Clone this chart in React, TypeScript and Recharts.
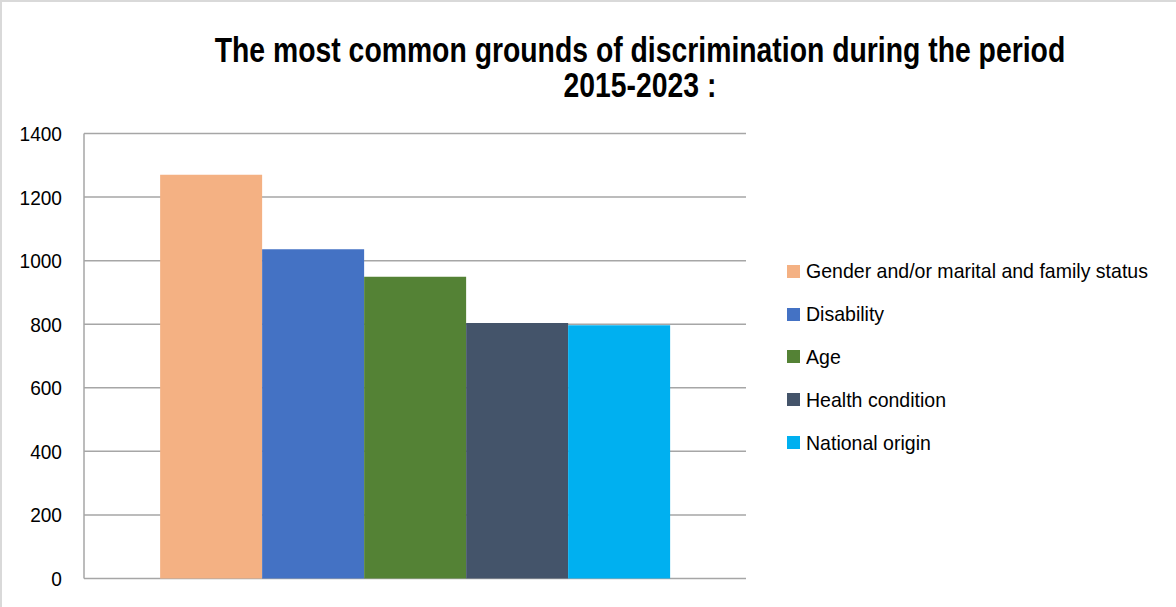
import React from 'react';
import { BarChart, Bar, XAxis, YAxis, CartesianGrid, Legend } from 'recharts';

const categories = ['2015-2023'];
const seriesNames = [
  'Gender and/or marital and family status',
  'Disability',
  'Age',
  'Health condition',
  'National origin',
];
const seriesValues = [1270, 1036, 949, 804, 797];
const seriesColors = ['#F4B183', '#4472C4', '#548235', '#44546A', '#00B0F0'];
const yTicks = [0, 200, 400, 600, 800, 1000, 1200, 1400];
const titleLines = ['The most common grounds of discrimination during the period', '2015-2023 :'];

const data = categories.map((c) => {
  const row: Record<string, any> = { name: c };
  seriesNames.forEach((s, i) => {
    row['s' + i] = seriesValues[i];
  });
  return row;
});

const FONT = "'Liberation Sans', Arial, sans-serif";
const BODY_SCALE = 0.91;
const LEGEND_SCALE = 0.93;
const TITLE_SCALE = 0.81;

const LegendContent = () => (
  <div style={{ fontFamily: FONT }}>
    {seriesNames.map((name, i) => (
      <div key={name} style={{ display: 'flex', alignItems: 'center', height: 42.8 }}>
        <span
          style={{
            display: 'inline-block',
            flexShrink: 0,
            width: 13,
            height: 13,
            background: seriesColors[i],
            marginRight: 6,
          }}
        />
        <span
          style={{
            fontSize: 21,
            color: '#000',
            whiteSpace: 'nowrap',
            display: 'inline-block',
            transform: `scaleX(${LEGEND_SCALE})`,
            transformOrigin: 'left center',
          }}
        >
          {name}
        </span>
      </div>
    ))}
  </div>
);

const YTick = (props: any) => {
  const { x, y, payload } = props;
  return (
    <g transform={`translate(${x},${y}) scale(${BODY_SCALE},1)`}>
      <text x={0} y={0} dy="0.36em" textAnchor="end" fill="#000" fontSize={21} fontFamily={FONT}>
        {payload.value}
      </text>
    </g>
  );
};

export default function App() {
  return (
    <div
      style={{
        position: 'absolute',
        left: 0,
        top: 0,
        width: 1176,
        height: 607,
        background: '#fff',
        boxSizing: 'border-box',
        borderLeft: '2px solid #d9d9d9',
        borderTop: '2px solid #d9d9d9',
        overflow: 'hidden',
      }}
    >
      {titleLines.map((t, i) => (
        <div
          key={i}
          style={{
            position: 'absolute',
            left: -62,
            width: 1400,
            top: i === 0 ? 27.6 : 63.2,
            lineHeight: '40px',
            textAlign: 'center',
            fontFamily: FONT,
            fontWeight: 'bold',
            fontSize: 35,
            color: '#000',
            transform: `scaleX(${TITLE_SCALE})`,
            transformOrigin: 'center',
            whiteSpace: 'nowrap',
          }}
        >
          {t}
        </div>
      ))}
      <div style={{ position: 'absolute', left: -2, top: -2 }}>
        <BarChart
          width={1176}
          height={607}
          data={data}
          margin={{ top: 133.5, right: 430, bottom: 28.5, left: 0 }}
          barCategoryGap="11.5%"
          barGap={0}
        >
          <CartesianGrid vertical={false} stroke="#a6a6a6" strokeWidth={1.5} />
          <XAxis dataKey="name" hide />
          <YAxis
            width={84}
            domain={[0, 1400]}
            ticks={yTicks}
            interval={0}
            tickLine={false}
            tickSize={0}
            tickMargin={22}
            axisLine={{ stroke: '#a6a6a6', strokeWidth: 1.5 }}
            tick={<YTick />}
          />
          <Legend
            layout="vertical"
            align="center"
            verticalAlign="middle"
            content={<LegendContent />}
            wrapperStyle={{ position: 'absolute', left: 787, top: 250, width: 385 }}
          />
          {seriesNames.map((s, i) => (
            <Bar key={s} dataKey={'s' + i} name={s} fill={seriesColors[i]} isAnimationActive={false} />
          ))}
        </BarChart>
      </div>
    </div>
  );
}
